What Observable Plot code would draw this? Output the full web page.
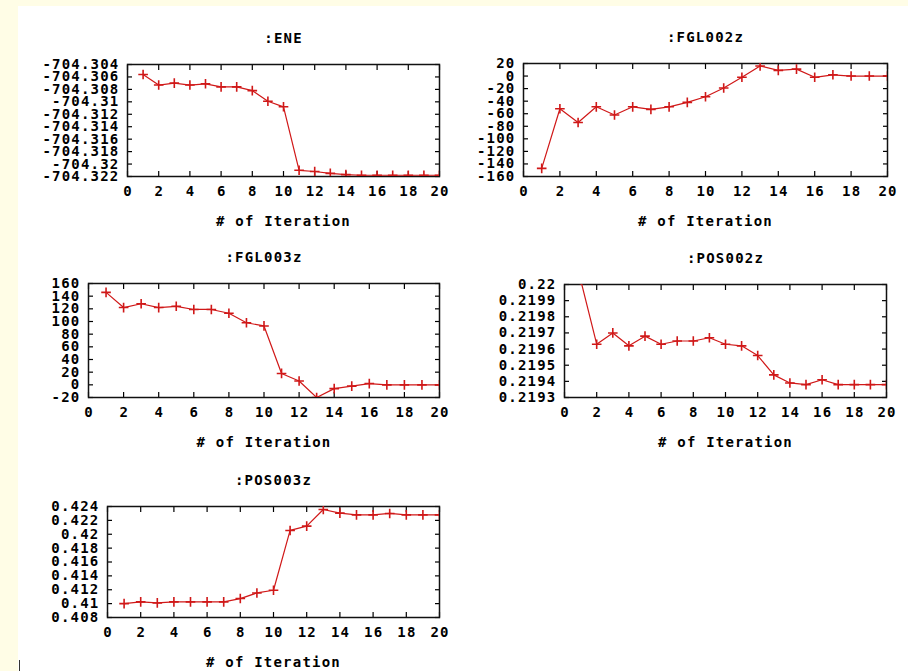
<!DOCTYPE html>
<html>
<head>
<meta charset="utf-8">
<script src="https://cdn.jsdelivr.net/npm/d3@7"></script>
<script src="https://cdn.jsdelivr.net/npm/@observablehq/plot@0.6"></script>
<style>
  html, body { margin: 0; padding: 0; background: #ffffff; }
  #page { position: relative; width: 908px; height: 671px; overflow: hidden; background: #ffffff; }
  .strip { position: absolute; background: #fffde6; }
  .panel { position: absolute; }
</style>
</head>
<body>
<div id="page">
  <div class="strip" style="left:0;top:0;width:908px;height:6px;"></div>
  <div class="strip" style="left:0;top:0;width:18px;height:671px;"></div>
  <div style="position:absolute;left:19px;top:660px;width:1px;height:11px;background:#333;"></div>
</div>
<script>
// ---- data ----
const iterations = [1,2,3,4,5,6,7,8,9,10,11,12,13,14,15,16,17,18,19,20];
const xTicks = [0,2,4,6,8,10,12,14,16,18,20];

const eneValues = [-704.3056,-704.3073,-704.3070,-704.3073,-704.3071,-704.3076,-704.3076,-704.3082,-704.3099,-704.3108,
                   -704.3210,-704.3212,-704.3215,-704.3217,-704.3218,-704.3218,-704.3218,-704.3218,-704.3218,-704.3218];
const eneTicks = [-704.304,-704.306,-704.308,-704.31,-704.312,-704.314,-704.316,-704.318,-704.32,-704.322];

const fgl002zValues = [-147,-52,-74,-49,-62,-49,-53,-49,-42,-33,-19,-2,16,9,11,-2,2,0,0,0];
const fgl002zTicks = [20,0,-20,-40,-60,-80,-100,-120,-140,-160];

const fgl003zValues = [146,122,128,122,124,119,119,113,98,93,18,6,-20,-6,-2,2,0,0,0,0];
const fgl003zTicks = [160,140,120,100,80,60,40,20,0,-20];

const pos002zValues = [0.22003,0.21963,0.21970,0.21962,0.21968,0.21963,0.21965,0.21965,0.21967,0.21963,
                       0.21962,0.21956,0.21944,0.21939,0.21938,0.21941,0.21938,0.21938,0.21938,0.21938];
const pos002zTicks = [0.22,0.2199,0.2198,0.2197,0.2196,0.2195,0.2194,0.2193];

const pos003zValues = [0.4100,0.41025,0.4101,0.41025,0.41025,0.41025,0.41025,0.41073,0.41154,0.41193,
                       0.42055,0.42117,0.42357,0.42304,0.4228,0.4228,0.4230,0.4228,0.4228,0.4228];
const pos003zTicks = [0.424,0.422,0.42,0.418,0.416,0.414,0.412,0.41,0.408];

const titles = [":ENE", ":FGL002z", ":FGL003z", ":POS002z", ":POS003z"];
const xLabel = "# of Iteration";

// ---- layout (frame boxes) ----
const panels = [
  {title: titles[0], values: eneValues, ticks: eneTicks, domain: [-704.322, -704.304], fx: 127, fy: 64, fw: 312, fh: 112, ml: 100},
  {title: titles[1], values: fgl002zValues, ticks: fgl002zTicks, domain: [-160, 20], fx: 523, fy: 63, fw: 364, fh: 113, ml: 90},
  {title: titles[2], values: fgl003zValues, ticks: fgl003zTicks, domain: [-20, 160], fx: 88, fy: 283, fw: 351, fh: 114, ml: 80},
  {title: titles[3], values: pos002zValues, ticks: pos002zTicks, domain: [0.2193, 0.22], fx: 564, fy: 284, fw: 322, fh: 113, ml: 100},
  {title: titles[4], values: pos003zValues, ticks: pos003zTicks, domain: [0.408, 0.424], fx: 107, fy: 506, fw: 332, fh: 111, ml: 100}
];

const RED = "#d01818";
const FONT = "DejaVu Sans Mono";
const mt = 40, mb = 60, mr = 20;
const page = document.getElementById("page");

for (const p of panels) {
  const data = iterations.map((it, i) => ({it, v: p.values[i]}));
  const chart = Plot.plot({
    width: p.ml + p.fw + mr,
    height: mt + p.fh + mb,
    marginLeft: p.ml, marginRight: mr, marginTop: mt, marginBottom: mb,
    style: {background: "transparent", fontFamily: FONT, fontWeight: "bold", fontSize: "14px", color: "#000", overflow: "visible", letterSpacing: "1.2px"},
    x: {domain: [0, 20]},
    y: {domain: p.domain},
    marks: [
      // tick labels
      Plot.axisX(xTicks, {anchor: "bottom", tickSize: 0, tickPadding: 10, tickFormat: d => String(d), label: null, dx: 0.6}),
      Plot.axisY(p.ticks, {anchor: "left", tickSize: 0, tickPadding: 8, tickFormat: d => String(d), label: null}),
      // inward ticks on all four sides
      Plot.axisX(xTicks, {anchor: "bottom", tickSize: 5, dy: -5, tickFormat: () => "", label: null, strokeWidth: 1.2}),
      Plot.axisX(xTicks, {anchor: "top", tickSize: 5, dy: 5, tickFormat: () => "", label: null, strokeWidth: 1.2}),
      Plot.axisY(p.ticks, {anchor: "left", tickSize: 5, dx: 5, tickFormat: () => "", label: null, strokeWidth: 1.2}),
      Plot.axisY(p.ticks, {anchor: "right", tickSize: 5, dx: -5, tickFormat: () => "", label: null, strokeWidth: 1.2}),
      Plot.frame({stroke: "#111", strokeWidth: 1.5}),
      Plot.line(data, {x: "it", y: "v", stroke: RED, strokeWidth: 1.2, clip: true}),
      Plot.dot(data, {x: "it", y: "v", symbol: "plus", r: 3.2, stroke: RED, strokeWidth: 1.6, clip: true}),
      Plot.text([p.title], {frameAnchor: "top", lineAnchor: "middle", dy: -26, text: d => d, fontSize: 14, fontWeight: "bold", fill: "#000"}),
      Plot.text([xLabel], {frameAnchor: "bottom", lineAnchor: "middle", dy: 45, text: d => d, fontSize: 14, fontWeight: "bold", fill: "#000"})
    ]
  });
  const wrap = document.createElement("div");
  wrap.className = "panel";
  wrap.style.left = (p.fx - p.ml) + "px";
  wrap.style.top = (p.fy - mt) + "px";
  wrap.appendChild(chart);
  page.appendChild(wrap);
}
</script>
</body>
</html>
